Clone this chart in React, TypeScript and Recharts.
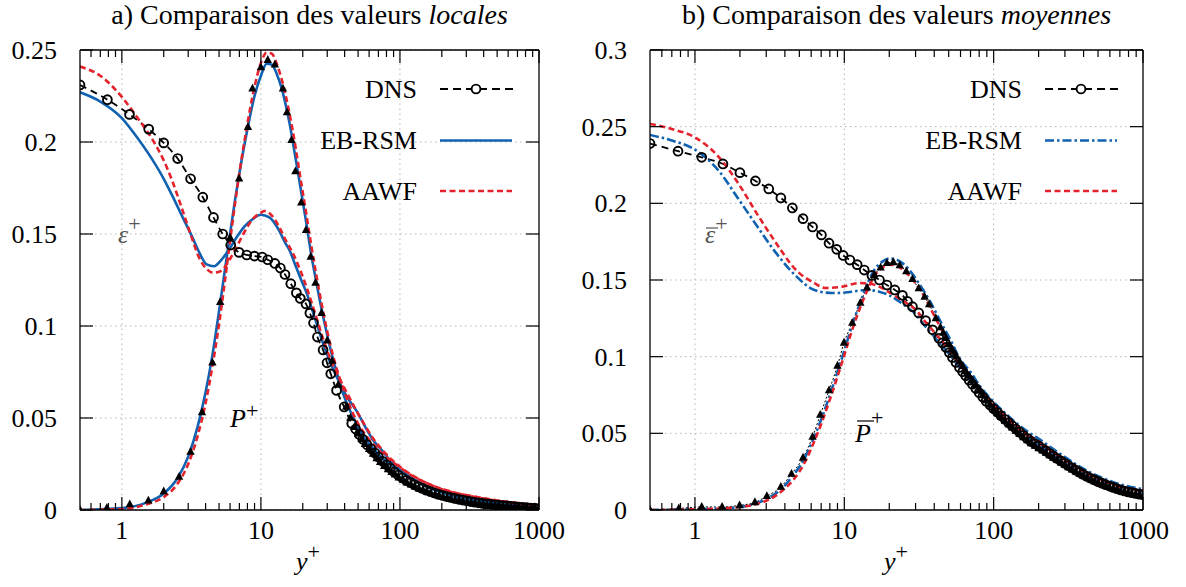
import React from 'react';
import { LineChart, Line, XAxis, YAxis, CartesianGrid, ReferenceLine, Legend } from 'recharts';

const FONT = "'Liberation Serif', 'DejaVu Serif', 'Noto Serif', serif";
const FS = 26;
const BLUE = '#1062b1';
const RED = '#e3222c';
const GRID = '#b4b4b4';

// ---------- axes ----------
const xTickValues = [0.6, 0.7, 0.8, 0.9, 1, 2, 3, 4, 5, 6, 7, 8, 9, 10, 20, 30, 40, 50, 60, 70, 80, 90, 100, 200, 300, 400, 500, 600, 700, 800, 900, 1000];
const xMajor = [1, 10, 100, 1000];
const xMajorLabels = ['1', '10', '100', '1000'];
const xGridValues = [1, 10, 100];
const xDomain: [number, number] = [0.5, 1000];

const yTicksLocal = [0, 0.05, 0.1, 0.15, 0.2, 0.25];
const yLabelsLocal = ['0', '0.05', '0.1', '0.15', '0.2', '0.25'];
const yTicksMean = [0, 0.05, 0.1, 0.15, 0.2, 0.25, 0.3];
const yLabelsMean = ['0', '0.05', '0.1', '0.15', '0.2', '0.25', '0.3'];

const legendNames = ['DNS', 'EB-RSM', 'AAWF'];

// ---------- a) local values ----------
const dnsEpsLocX = [0.5, 0.787, 1.135, 1.56, 2.0, 2.52, 3.12, 3.82, 4.56, 5.31, 6.07, 6.97, 7.91, 8.98, 10.2, 11.2, 12.6, 13.8, 14.9, 16.4, 18.0, 19.2, 21.1, 22.5, 23.9, 25.5, 28.0, 29.9, 31.8, 35.0, 39.7, 45, 48, 51, 54, 58, 62, 66, 70, 75, 80, 85, 91, 97, 104, 111, 119, 127, 136, 145, 155, 166, 178, 190, 203, 217, 232, 248, 265, 283, 302, 323, 345, 369, 394, 421, 450, 481, 514, 549, 587, 627, 670, 716, 765, 818, 874, 934, 1000];
const dnsEpsLocY = [0.231, 0.223, 0.215, 0.207, 0.1995, 0.191, 0.180, 0.170, 0.159, 0.150, 0.144, 0.140, 0.1386, 0.138, 0.1375, 0.136, 0.134, 0.1315, 0.128, 0.123, 0.118, 0.115, 0.112, 0.107, 0.1016, 0.094, 0.087, 0.080, 0.074, 0.065, 0.056, 0.047, 0.044, 0.041, 0.0385, 0.0355, 0.0332, 0.031, 0.0288, 0.0265, 0.0246, 0.0228, 0.0207, 0.0190, 0.0175, 0.0161, 0.0149, 0.0137, 0.0126, 0.0117, 0.0108, 0.0100, 0.0092, 0.0085, 0.0079, 0.0073, 0.0068, 0.0063, 0.0058, 0.0054, 0.0050, 0.0046, 0.0042, 0.0039, 0.0036, 0.0033, 0.0031, 0.0028, 0.0026, 0.0024, 0.0022, 0.0020, 0.0018, 0.0016, 0.0014, 0.0013, 0.0011, 0.0010, 0.0008];

const dnsPLocX = [0.5, 0.78, 1.14, 1.55, 2.0, 2.58, 3.12, 3.77, 4.48, 5.1, 6.0, 6.97, 8.07, 8.7, 10.0, 11.2, 12.6, 14.4, 15.4, 16.6, 17.7, 19.5, 21.1, 22.8, 24.7, 27.3, 30.0, 32.5, 36, 41, 44, 47, 50, 53, 56, 60, 64, 68, 72, 77, 82, 87, 92, 98, 105, 112, 120, 128, 137, 146, 156, 167, 179, 191, 204, 218, 233, 249, 266, 284, 304, 325, 347, 371, 396, 423, 452, 483, 516, 551, 589, 629, 672, 718, 767, 820, 876, 936, 1000];
const dnsPLocY = [0, 0.001, 0.003, 0.005, 0.010, 0.018, 0.0315, 0.053, 0.080, 0.113, 0.148, 0.180, 0.208, 0.229, 0.2405, 0.2445, 0.242, 0.229, 0.216, 0.201, 0.184, 0.167, 0.152, 0.1375, 0.1234, 0.107, 0.092, 0.081, 0.068, 0.056, 0.050, 0.045, 0.0415, 0.0385, 0.0358, 0.033, 0.0305, 0.028, 0.026, 0.0238, 0.0221, 0.0205, 0.0192, 0.0176, 0.0163, 0.0149, 0.0138, 0.0127, 0.0116, 0.0107, 0.0099, 0.0091, 0.0083, 0.0077, 0.0071, 0.0065, 0.0059, 0.0055, 0.0051, 0.0047, 0.0043, 0.0040, 0.0037, 0.0034, 0.0031, 0.0029, 0.0027, 0.0025, 0.0023, 0.0021, 0.0019, 0.0017, 0.0016, 0.0014, 0.0013, 0.0011, 0.0010, 0.0009, 0.0008];

const ebEpsLocX = [0.5, 0.7, 1.0, 1.3, 1.67, 2.0, 2.3, 2.7, 3.18, 3.6, 4.07, 4.6, 5.2, 5.95, 6.8, 7.6, 8.7, 10, 11.5, 13.5, 15, 16.1, 17.5, 19.5, 21.3, 24.5, 28, 32, 36.9, 42, 48.6, 56, 64, 75, 86, 100, 120, 150, 200, 250, 316, 400, 500, 630, 800, 1000];
const ebEpsLocY = [0.227, 0.222, 0.213, 0.202, 0.190, 0.180, 0.171, 0.160, 0.149, 0.140, 0.1335, 0.1325, 0.136, 0.142, 0.149, 0.154, 0.158, 0.1605, 0.159, 0.152, 0.145, 0.141, 0.134, 0.125, 0.118, 0.104, 0.0906, 0.079, 0.069, 0.061, 0.054, 0.0455, 0.038, 0.032, 0.0265, 0.022, 0.0177, 0.0137, 0.0098, 0.0078, 0.0062, 0.0048, 0.0037, 0.0028, 0.002, 0.0014];

const aaEpsLocX = [0.5, 0.7, 1.0, 1.3, 1.67, 2.0, 2.3, 2.7, 3.18, 3.6, 4.07, 4.5, 5.0, 5.5, 5.95, 6.8, 7.6, 8.7, 10, 10.6, 12, 13.5, 15, 17.5, 19.5, 21.3, 24.5, 28, 32, 37, 42, 48.6, 56, 64, 75, 86, 100, 120, 150, 200, 250, 316, 400, 500, 630, 800, 1000];
const aaEpsLocY = [0.241, 0.236, 0.2245, 0.213, 0.201, 0.190, 0.179, 0.164, 0.148, 0.137, 0.131, 0.129, 0.1295, 0.132, 0.136, 0.144, 0.151, 0.158, 0.1615, 0.1625, 0.160, 0.154, 0.147, 0.1375, 0.129, 0.121, 0.107, 0.093, 0.081, 0.071, 0.063, 0.054, 0.046, 0.039, 0.0325, 0.0278, 0.0235, 0.0193, 0.0152, 0.0113, 0.0092, 0.0078, 0.0064, 0.0052, 0.0042, 0.0033, 0.0026];

const modelPLocX = [0.5, 1.0, 1.5, 2.0, 2.5, 3.0, 3.5, 4.0, 4.5, 5.0, 5.5, 6.0, 6.5, 7.0, 8.0, 9.0, 10, 11, 12, 13, 14, 15, 16, 17.5, 19, 21, 23, 25, 27.5, 30, 33, 36, 40, 45, 50, 57, 64, 75, 86, 100, 120, 150, 200, 250, 316, 400, 500, 630, 800, 1000];
const ebPLocY = [0, 0.001, 0.004, 0.009, 0.017, 0.029, 0.045, 0.064, 0.085, 0.108, 0.130, 0.150, 0.168, 0.183, 0.207, 0.225, 0.236, 0.2425, 0.242, 0.237, 0.230, 0.221, 0.211, 0.194, 0.178, 0.158, 0.139, 0.124, 0.108, 0.095, 0.082, 0.072, 0.061, 0.052, 0.045, 0.038, 0.0335, 0.028, 0.0245, 0.021, 0.017, 0.0132, 0.0095, 0.0074, 0.0058, 0.0045, 0.0034, 0.0025, 0.0017, 0.0011];
const aaPLocY = [0, 0.0005, 0.003, 0.007, 0.014, 0.025, 0.040, 0.058, 0.079, 0.101, 0.124, 0.146, 0.166, 0.183, 0.210, 0.230, 0.243, 0.2485, 0.248, 0.2425, 0.235, 0.226, 0.216, 0.200, 0.183, 0.163, 0.144, 0.128, 0.111, 0.097, 0.084, 0.074, 0.064, 0.054, 0.047, 0.0405, 0.036, 0.0305, 0.0268, 0.0232, 0.019, 0.0152, 0.0115, 0.0094, 0.0077, 0.0062, 0.005, 0.004, 0.0031, 0.0025];

// ---------- b) mean values ----------
const dnsEpsMeanX = [0.5, 0.77, 1.11, 1.54, 2.0, 2.54, 3.12, 3.76, 4.49, 5.29, 6.13, 7.03, 7.9, 8.89, 9.83, 10.9, 12.2, 13.6, 15.3, 17.2, 19.3, 21.8, 24.5, 26.5, 28.6, 31.5, 35, 39, 43, 45.5, 48, 50.5, 53, 56, 59, 62, 65, 68.5, 72, 76, 80, 84.5, 89, 94.5, 100, 106, 112, 119, 126, 133, 141, 149, 158, 168, 178, 189, 200, 212, 224, 237, 251, 266, 282, 299, 316, 335, 355, 376, 398, 422, 447, 473, 501, 531, 562, 596, 631, 668, 708, 750, 794, 841, 891, 944, 1000];
const dnsEpsMeanY = [0.239, 0.234, 0.230, 0.2257, 0.220, 0.2146, 0.2094, 0.2035, 0.197, 0.190, 0.1846, 0.1794, 0.174, 0.170, 0.166, 0.163, 0.160, 0.1565, 0.153, 0.150, 0.1467, 0.1435, 0.140, 0.136, 0.1326, 0.1285, 0.1235, 0.1175, 0.112, 0.109, 0.106, 0.1027, 0.0995, 0.0962, 0.093, 0.0902, 0.0875, 0.0847, 0.082, 0.0792, 0.0765, 0.0737, 0.071, 0.0685, 0.066, 0.0637, 0.0615, 0.0592, 0.057, 0.055, 0.0528, 0.0508, 0.0487, 0.0467, 0.0447, 0.0432, 0.0418, 0.0401, 0.0385, 0.0368, 0.0352, 0.0336, 0.032, 0.0305, 0.029, 0.0275, 0.026, 0.0246, 0.0232, 0.0219, 0.0207, 0.0196, 0.0185, 0.0175, 0.0165, 0.0156, 0.0147, 0.0139, 0.0131, 0.0124, 0.0118, 0.0113, 0.0108, 0.0103, 0.0099];

const dnsPMeanX = [0.5, 0.78, 1.11, 1.52, 1.99, 2.52, 3.03, 3.76, 4.43, 5.29, 6.13, 6.9, 7.9, 9.0, 9.95, 11.3, 12.8, 14.2, 15.8, 17.5, 19.3, 21.3, 23.5, 26, 28.6, 31.5, 34.5, 37, 41, 44, 46, 48, 50.5, 53, 56, 59, 62, 65, 68.5, 72, 76, 80, 84.5, 89, 94.5, 100, 106, 112, 119, 126, 133, 141, 149, 158, 168, 178, 189, 200, 212, 224, 237, 251, 266, 282, 299, 316, 335, 355, 376, 398, 422, 447, 473, 501, 531, 562, 596, 631, 668, 708, 750, 794, 841, 891, 944, 1000];
const dnsPMeanY = [0, 0.001, 0.002, 0.002, 0.003, 0.005, 0.009, 0.015, 0.0235, 0.034, 0.0476, 0.062, 0.078, 0.094, 0.109, 0.122, 0.135, 0.145, 0.153, 0.158, 0.161, 0.1615, 0.1595, 0.1555, 0.1505, 0.1445, 0.139, 0.134, 0.125, 0.119, 0.1155, 0.112, 0.108, 0.1045, 0.1007, 0.097, 0.0937, 0.0905, 0.0875, 0.0845, 0.0812, 0.078, 0.0747, 0.0715, 0.0685, 0.0655, 0.063, 0.0605, 0.0581, 0.0558, 0.0537, 0.0515, 0.0494, 0.0473, 0.0453, 0.0434, 0.0418, 0.0402, 0.0387, 0.0372, 0.0356, 0.034, 0.0324, 0.0308, 0.0293, 0.0278, 0.0263, 0.0249, 0.0235, 0.0222, 0.021, 0.0198, 0.0187, 0.0177, 0.0167, 0.0157, 0.0148, 0.014, 0.0132, 0.0124, 0.0117, 0.0111, 0.0105, 0.01, 0.0096, 0.0092];

const ebEpsMeanX = [0.5, 0.7, 1.0, 1.45, 1.95, 2.61, 3.5, 4.7, 6.3, 8.3, 10.1, 12, 14, 17.1, 20, 23.3, 26.5, 30.2, 34, 38.9, 44, 50.4, 57, 65, 75, 87, 100, 120, 140, 165, 202, 240, 290, 350, 437, 530, 640, 780, 1000];
const ebEpsMeanY = [0.2446, 0.241, 0.235, 0.221, 0.203, 0.185, 0.1675, 0.153, 0.1435, 0.1415, 0.1418, 0.1428, 0.1435, 0.1424, 0.140, 0.136, 0.132, 0.1275, 0.121, 0.1145, 0.108, 0.1017, 0.095, 0.089, 0.081, 0.073, 0.0655, 0.0585, 0.053, 0.0478, 0.0425, 0.0375, 0.0322, 0.0272, 0.0222, 0.0186, 0.0158, 0.0136, 0.0116];

const aaEpsMeanX = [0.5, 0.7, 1.0, 1.45, 1.95, 2.61, 3.5, 4.7, 6.3, 7.5, 9.7, 12.6, 15, 17.1, 20, 23.3, 26.5, 30.2, 34, 38.9, 43, 50.4, 57, 65, 75, 87, 100, 120, 140, 165, 202, 240, 290, 350, 437, 530, 640, 780, 1000];
const aaEpsMeanY = [0.2518, 0.2485, 0.243, 0.230, 0.213, 0.193, 0.174, 0.157, 0.148, 0.1448, 0.1457, 0.148, 0.1475, 0.1457, 0.142, 0.138, 0.1345, 0.1305, 0.124, 0.1174, 0.1125, 0.1044, 0.097, 0.0905, 0.083, 0.075, 0.0675, 0.0598, 0.0545, 0.0492, 0.0438, 0.0388, 0.0335, 0.0284, 0.0231, 0.0195, 0.0165, 0.0142, 0.0123];

const modelPMeanX = [0.5, 1.0, 1.5, 2.0, 2.5, 3.0, 3.5, 4.0, 4.5, 5.0, 5.5, 6.0, 7.0, 8.0, 9.0, 10, 11, 12, 13, 14.5, 16, 18, 20, 22, 24.5, 27, 30, 34, 38, 44, 52, 59, 70, 82, 100, 120, 140, 165, 202, 240, 290, 350, 437, 530, 640, 780, 1000];
const ebPMeanY = [0, 0.0005, 0.001, 0.002, 0.004, 0.007, 0.011, 0.016, 0.022, 0.028, 0.035, 0.043, 0.059, 0.075, 0.090, 0.104, 0.117, 0.128, 0.137, 0.149, 0.157, 0.162, 0.164, 0.1635, 0.161, 0.157, 0.151, 0.143, 0.135, 0.123, 0.110, 0.099, 0.090, 0.080, 0.0705, 0.063, 0.0572, 0.0518, 0.0462, 0.041, 0.0355, 0.0302, 0.0248, 0.021, 0.018, 0.0156, 0.0136];
const aaPMeanY = [0, 0.0004, 0.001, 0.002, 0.0035, 0.006, 0.0095, 0.014, 0.019, 0.025, 0.032, 0.040, 0.056, 0.072, 0.087, 0.101, 0.114, 0.125, 0.134, 0.145, 0.153, 0.158, 0.160, 0.1595, 0.157, 0.153, 0.148, 0.140, 0.131, 0.119, 0.106, 0.0955, 0.087, 0.077, 0.0685, 0.061, 0.0555, 0.050, 0.0446, 0.0395, 0.034, 0.0288, 0.0235, 0.0198, 0.0168, 0.0145, 0.0126];

// ---------- helpers ----------
type Pt = { x: number; y: number };
const zip = (xs: number[], ys: number[]): Pt[] => xs.map((x, i) => ({ x, y: ys[i] }));

type Series = {
  key: string;
  name: string;
  data: Pt[];
  stroke: string;
  width: number;
  dash?: string;
  marker?: 'circle' | 'triangle';
  legend: boolean;
};

const circleDot = (p: any) => {
  const { cx, cy, index } = p;
  if (cx == null || cy == null || isNaN(cx) || isNaN(cy)) return <g key={`c${index}`} />;
  return <circle key={`c${index}`} cx={cx} cy={cy} r={4.4} fill="none" stroke="#000" strokeWidth={1.9} />;
};
const triDot = (p: any) => {
  const { cx, cy, index } = p;
  if (cx == null || cy == null || isNaN(cx) || isNaN(cy)) return <g key={`t${index}`} />;
  return <path key={`t${index}`} d={`M${cx},${cy - 5} L${cx + 4.2},${cy + 2.8} L${cx - 4.2},${cy + 2.8} Z`} fill="#000" />;
};

const txt = { fontFamily: FONT, fontSize: FS, fill: '#000' } as const;

const bottomTick = (p: any) => {
  const { x, y, payload } = p;
  const i = xMajor.indexOf(payload.value);
  const major = i >= 0;
  return (
    <g>
      <line x1={x} x2={x} y1={y} y2={y - (major ? 13 : 7)} stroke="#000" strokeWidth={1.2} />
      {major && (
        <text x={x} y={y + 29} textAnchor="middle" {...txt} style={{ fontFamily: FONT }}>
          {xMajorLabels[i]}
        </text>
      )}
    </g>
  );
};
const topTick = (p: any) => {
  const { x, y, payload } = p;
  const major = xMajor.indexOf(payload.value) >= 0;
  return <line x1={x} x2={x} y1={y} y2={y + (major ? 13 : 7)} stroke="#000" strokeWidth={1.2} />;
};
const makeLeftTick = (ticks: number[], labels: string[]) => (p: any) => {
  const { x, y, payload } = p;
  const i = ticks.indexOf(payload.value);
  return (
    <g>
      <line x1={x} x2={x + 13} y1={y} y2={y} stroke="#000" strokeWidth={1.2} />
      <text x={x - 23} y={y + 9} textAnchor="end" {...txt} style={{ fontFamily: FONT }}>
        {i >= 0 ? labels[i] : ''}
      </text>
    </g>
  );
};
const rightTick = (p: any) => {
  const { x, y } = p;
  return <line x1={x} x2={x - 13} y1={y} y2={y} stroke="#000" strokeWidth={1.2} />;
};

const ROW_Y = [29, 80.5, 131];

const makeLegend = (series: Series[]) => (props: any) => {
  const seen: string[] = [];
  const entries = (props.payload || [])
    .filter((e: any) => {
      if (e.type === 'none' || seen.includes(e.value) || !legendNames.includes(e.value)) return false;
      seen.push(e.value);
      return true;
    })
    .sort((a: any, b: any) => legendNames.indexOf(a.value) - legendNames.indexOf(b.value));
  return (
    <svg width={240} height={160} style={{ overflow: 'visible', display: 'block' }}>
      {entries.map((e: any) => {
        const s = series.find((ss) => ss.legend && ss.name === e.value)!;
        const cy = ROW_Y[legendNames.indexOf(e.value)];
        return (
          <g key={s.key}>
            <text x={127} y={cy + 8.5} textAnchor="end" {...txt} style={{ fontFamily: FONT }}>
              {e.value}
            </text>
            <line x1={150} x2={s.marker ? 224 : 222} y1={cy} y2={cy} stroke={s.stroke} strokeWidth={s.marker ? 1.9 : s.width} strokeDasharray={s.marker ? '8 5' : s.dash} />
            {s.marker === 'circle' && <circle cx={186} cy={cy} r={4.4} fill="#fff" stroke="#000" strokeWidth={1.9} />}
          </g>
        );
      })}
    </svg>
  );
};

type PanelProps = {
  left: number;
  width: number;
  yLeftW: number;
  yRightW: number;
  yMax: number;
  yTicks: number[];
  yLabels: string[];
  series: Series[];
  legendLeft: number;
};

function Panel({ left, width, yLeftW, yRightW, yMax, yTicks, yLabels, series, legendLeft }: PanelProps) {
  const axisLine = { stroke: '#000', strokeWidth: 1.3 };
  return (
    <div style={{ position: 'absolute', left, top: 0 }}>
      <LineChart width={width} height={587} margin={{ top: 40, right: 0, bottom: 0, left: 0 }}>
        <CartesianGrid xAxisId="b" yAxisId="l" vertical={false} stroke={GRID} strokeDasharray="1.5 3.5" />
        <XAxis xAxisId="b" dataKey="x" type="number" scale="log" domain={xDomain} allowDataOverflow ticks={xTickValues} interval={0} tickSize={0} tickMargin={0} tick={bottomTick} tickLine={false} axisLine={axisLine} height={77} />
        <XAxis xAxisId="t" orientation="top" dataKey="x" type="number" scale="log" domain={xDomain} allowDataOverflow ticks={xTickValues} interval={0} tickSize={0} tickMargin={0} tick={topTick} tickLine={false} axisLine={axisLine} height={10} />
        <YAxis yAxisId="l" type="number" domain={[0, yMax]} allowDataOverflow ticks={yTicks} interval={0} tickSize={0} tickMargin={0} tick={makeLeftTick(yTicks, yLabels)} tickLine={false} axisLine={axisLine} width={yLeftW} />
        <YAxis yAxisId="r" orientation="right" type="number" domain={[0, yMax]} allowDataOverflow ticks={yTicks} interval={0} tickSize={0} tickMargin={0} tick={rightTick} tickLine={false} axisLine={axisLine} width={yRightW} />
        {xGridValues.map((v) => (
          <ReferenceLine key={`g${v}`} x={v} xAxisId="b" yAxisId="l" stroke={GRID} strokeDasharray="1.5 3.5" strokeWidth={1} />
        ))}
        {series.map((s) => (
          <Line
            key={s.key}
            xAxisId="b"
            yAxisId="l"
            data={s.data}
            dataKey="y"
            name={s.name}
            type="monotone"
            stroke={s.stroke}
            strokeWidth={s.width}
            strokeDasharray={s.dash}
            dot={s.marker === 'circle' ? circleDot : s.marker === 'triangle' ? triDot : false}
            activeDot={false}
            legendType={s.legend ? 'line' : 'none'}
            isAnimationActive={false}
          />
        ))}
        <Legend
          layout="horizontal"
          verticalAlign="middle"
          align="center"
          wrapperStyle={{ position: 'absolute', left: legendLeft, top: 60, width: 240, height: 160 }}
          content={makeLegend(series)}
        />
      </LineChart>
    </div>
  );
}

const localSeries: Series[] = [
  { key: 'dnsE', name: 'DNS', data: zip(dnsEpsLocX, dnsEpsLocY), stroke: '#000', width: 1.8, dash: '7 5', marker: 'circle', legend: true },
  { key: 'dnsP', name: 'DNS', data: zip(dnsPLocX, dnsPLocY), stroke: 'none', width: 0, marker: 'triangle', legend: false },
  { key: 'ebE', name: 'EB-RSM', data: zip(ebEpsLocX, ebEpsLocY), stroke: BLUE, width: 2.6, legend: true },
  { key: 'ebP', name: 'EB-RSM', data: zip(modelPLocX, ebPLocY), stroke: BLUE, width: 2.6, legend: false },
  { key: 'aaE', name: 'AAWF', data: zip(aaEpsLocX, aaEpsLocY), stroke: RED, width: 2.6, dash: '6 3.5', legend: true },
  { key: 'aaP', name: 'AAWF', data: zip(modelPLocX, aaPLocY), stroke: RED, width: 2.6, dash: '6 3.5', legend: false },
];

const meanSeries: Series[] = [
  { key: 'dnsE', name: 'DNS', data: zip(dnsEpsMeanX, dnsEpsMeanY), stroke: '#000', width: 1.8, dash: '7 5', marker: 'circle', legend: true },
  { key: 'dnsP', name: 'DNS', data: zip(dnsPMeanX, dnsPMeanY), stroke: '#000', width: 1, dash: '2 2', marker: 'triangle', legend: false },
  { key: 'ebE', name: 'EB-RSM', data: zip(ebEpsMeanX, ebEpsMeanY), stroke: BLUE, width: 2.6, dash: '9 3 2.5 3', legend: true },
  { key: 'ebP', name: 'EB-RSM', data: zip(modelPMeanX, ebPMeanY), stroke: BLUE, width: 2.6, dash: '9 3 2.5 3', legend: false },
  { key: 'aaE', name: 'AAWF', data: zip(aaEpsMeanX, aaEpsMeanY), stroke: RED, width: 2.6, dash: '6 3.5', legend: true },
  { key: 'aaP', name: 'AAWF', data: zip(modelPMeanX, aaPMeanY), stroke: RED, width: 2.6, dash: '6 3.5', legend: false },
];

export default function App() {
  const st = { fontFamily: FONT };
  const sup = { fontSize: 22, fontStyle: 'normal' as const };
  return (
    <div style={{ position: 'absolute', left: 0, top: 0, width: 1186, height: 587, background: '#fff', overflow: 'hidden', fontFamily: FONT }}>
      <Panel left={0} width={580} yLeftW={80} yRightW={41} yMax={0.25} yTicks={yTicksLocal} yLabels={yLabelsLocal} series={localSeries} legendLeft={290} />
      <Panel left={580} width={606} yLeftW={70} yRightW={43} yMax={0.3} yTicks={yTicksMean} yLabels={yLabelsMean} series={meanSeries} legendLeft={314.5} />
      <svg width={1186} height={587} style={{ position: 'absolute', left: 0, top: 0, pointerEvents: 'none' }}>
        <text x={309.5} y={24} textAnchor="middle" {...txt} fontSize={28} style={st}>
          a) Comparaison des valeurs <tspan fontStyle="italic">locales</tspan>
        </text>
        <text x={896.5} y={24} textAnchor="middle" {...txt} fontSize={28} style={st}>
          b) Comparaison des valeurs <tspan fontStyle="italic">moyennes</tspan>
        </text>
        <text x={118} y={243} {...txt} fill="#555" fontStyle="italic" style={st}>
          ε<tspan dy={-12} {...sup}>+</tspan>
        </text>
        <text x={230} y={427} {...txt} fontStyle="italic" style={st}>
          P<tspan dy={-9} {...sup}>+</tspan>
        </text>
        <line x1={706} x2={718} y1={228} y2={228} stroke="#555" strokeWidth={1.2} />
        <text x={705} y={243} {...txt} fill="#555" fontStyle="italic" style={st}>
          ε<tspan dy={-12} {...sup}>+</tspan>
        </text>
        <line x1={857} x2={874} y1={421} y2={421} stroke="#000" strokeWidth={1.2} />
        <text x={855} y={442} {...txt} fontStyle="italic" style={st}>
          P<tspan dy={-17.5} {...sup}>+</tspan>
        </text>
        <text x={296} y={570} {...txt} fontStyle="italic" style={st}>
          y<tspan dy={-11} {...sup}>+</tspan>
        </text>
        <text x={884} y={570} {...txt} fontStyle="italic" style={st}>
          y<tspan dy={-11} {...sup}>+</tspan>
        </text>
      </svg>
    </div>
  );
}
